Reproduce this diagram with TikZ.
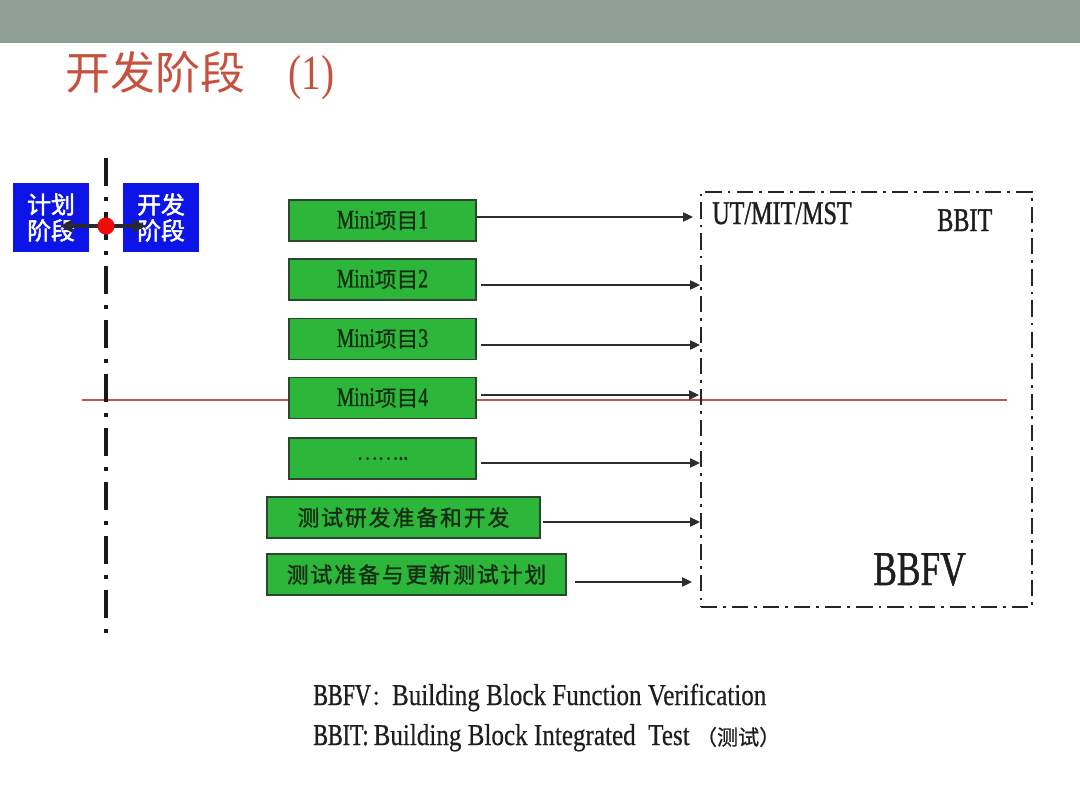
\documentclass[tikz,border=0pt]{standalone}
\usepackage{fontspec}
\setmainfont{Liberation Serif}
\newfontfamily\cjk{Noto Sans CJK SC}
\newfontfamily\cjkm[FakeBold=0.8]{Noto Sans CJK SC}
\newfontfamily\cjkb[FakeBold=2]{Noto Sans CJK SC}
\newfontfamily\cjksp[FakeBold=1.4,LetterSpace=9]{Noto Sans CJK SC}
\newfontfamily\condA[FakeStretch=0.73]{Liberation Serif}
\newfontfamily\condAb[FakeStretch=0.73,FakeBold=1]{Liberation Serif}
\newfontfamily\condB[FakeStretch=0.83,FakeBold=0.4]{Liberation Serif}
\newfontfamily\titleser[FakeStretch=0.8]{Liberation Serif}
\usetikzlibrary{arrows.meta}
\definecolor{band}{RGB}{142,160,150}
\definecolor{titlec}{RGB}{198,82,62}
\definecolor{bfill}{RGB}{12,20,232}
\definecolor{gfill}{RGB}{44,182,58}
\definecolor{gborder}{RGB}{45,70,45}
\definecolor{gtext}{RGB}{20,45,20}
\definecolor{arrc}{RGB}{45,45,45}
\definecolor{redline}{RGB}{192,84,74}
\definecolor{txtc}{RGB}{30,30,30}
\newcommand{\mini}[1]{{\condAb\fontsize{19}{19}\selectfont Mini}{\cjkm\fontsize{15.5}{19}\selectfont 项目}{\condAb\fontsize{19}{19}\selectfont #1}}
\begin{document}
\begin{tikzpicture}[x=0.025cm,y=-0.025cm,
  gbox/.style={draw=gborder, line width=1.2pt, fill=gfill, inner sep=0pt, text=gtext, minimum height=1.025cm},
  bluebox/.style={fill=bfill, inner sep=0pt, text=white, minimum width=1.9cm, minimum height=1.725cm, align=center, font=\cjkb\fontsize{17}{18.5}\selectfont},
  arr/.style={draw=arrc, line width=1pt, -{Triangle[length=7pt,width=6.5pt]}},
  vline/.style={draw=black!90, line width=2.4pt, dash pattern=on 20pt off 7.8pt on 2.8pt off 7.8pt},
  dashbox/.style={draw=black!85, line width=1.4pt, dash pattern=on 11.5pt off 4.3pt on 2pt off 4.3pt, inner sep=0pt},
  lbl/.style={inner sep=0pt, text=txtc}
]
\useasboundingbox (0,0) rectangle (1080,808);
% top band
\fill[band] (0,0) rectangle (1080,43);
% title
\node[anchor=west, inner sep=0pt, text=titlec] (title) at (65,76) {{\cjk\fontsize{32}{34}\selectfont 开发阶段}\hspace{31pt}{\titleser\fontsize{35}{36}\selectfont (1)}};
% red horizontal line
\coordinate (rl1) at (82,400);
\coordinate (rl2) at (1007,400);
\draw[redline, line width=1.3pt] (rl1) -- (rl2);
% vertical dash-dot line
\coordinate (v1) at (106,158);
\coordinate (v2) at (106,642);
\draw[vline] (v1) -- (v2);
% blue boxes
\node[bluebox] (plan) at (51,217.5) {计划\\阶段};
\node[bluebox] (dev) at (161,217.5) {开发\\阶段};
\coordinate (pl) at (60,226);
\coordinate (pr) at (146,226);
\draw[draw={rgb,255:red,40;green,40;blue,50}, line width=2.4pt, {Triangle[length=9pt,width=9pt]}-{Triangle[length=9pt,width=9pt]}] (pl) -- (pr);
\node[circle, fill={rgb,255:red,240;green,10;blue,10}, inner sep=0pt, minimum size=0.43cm] (dot) at (106,226) {};
% green boxes
\node[gbox, minimum width=4.675cm] (m1) at (382.5,220.5) {\mini{1}};
\node[gbox, minimum width=4.675cm] (m2) at (382.5,279.5) {\mini{2}};
\node[gbox, minimum width=4.675cm] (m3) at (382.5,339) {\mini{3}};
\node[gbox, minimum width=4.675cm] (m4) at (382.5,398) {\mini{4}};
\node[gbox, minimum width=4.675cm] (m5) at (382.5,458.5) {{\cjkm\fontsize{14}{16}\selectfont ……}{\condAb\fontsize{19}{19}\selectfont ..}};
\node[gbox, minimum width=6.825cm] (t1) at (403.5,517.5) {\cjksp\fontsize{15.5}{18}\selectfont 测试研发准备和开发};
\node[gbox, minimum width=7.475cm] (t2) at (416.5,574.5) {\cjksp\fontsize{15.5}{18}\selectfont 测试准备与更新测试计划};
% dashed box
\node[dashbox, minimum width=8.275cm, minimum height=10.375cm] (bb) at (866.5,399.5) {};
% arrow targets
\coordinate (e1) at (693,217);
\coordinate (e2) at (700,285);
\coordinate (e3) at (700,345);
\coordinate (e4) at (699,395);
\coordinate (e5) at (700,463);
\coordinate (e6) at (700,522);
\coordinate (e7) at (692,582);
\draw[arr] (m1.east |- e1) -- (e1);
\draw[arr, shorten <=2.8pt] (m2.east |- e2) -- (e2);
\draw[arr, shorten <=2.8pt] (m3.east |- e3) -- (e3);
\draw[arr, shorten <=2.8pt] (m4.east |- e4) -- (e4);
\draw[arr, shorten <=2.8pt] (m5.east |- e5) -- (e5);
\draw[arr, shorten <=1.4pt] (t1.east |- e6) -- (e6);
\draw[arr, shorten <=5.6pt] (t2.east |- e7) -- (e7);
% labels in the box
\node[lbl, anchor=base west, font=\condAb\fontsize{23.5}{24}\selectfont] (ut) at (712,224) {UT/MIT/MST};
\node[lbl, anchor=base west, font=\condAb\fontsize{23.5}{24}\selectfont] (bbit) at (937,231) {BBIT};
\node[lbl, anchor=base west, font=\condAb\fontsize{34.5}{36}\selectfont] (bbfv) at (873,585) {BBFV};
% bottom notes
\node[lbl, anchor=base west] (n1) at (313,705) {{\condAb\fontsize{21.5}{24}\selectfont BBFV}{\cjkm\fontsize{15}{24}\selectfont ：}{\condB\fontsize{21.5}{24}\selectfont Building Block Function Verification}};
\node[lbl, anchor=base west] (n2) at (313,745) {{\condAb\fontsize{21.5}{24}\selectfont BBIT:}{\condB\fontsize{21.5}{24}\selectfont \,Building Block Integrated~~Test~}{\cjkm\fontsize{15}{24}\selectfont （测试）}};
\end{tikzpicture}
\end{document}
